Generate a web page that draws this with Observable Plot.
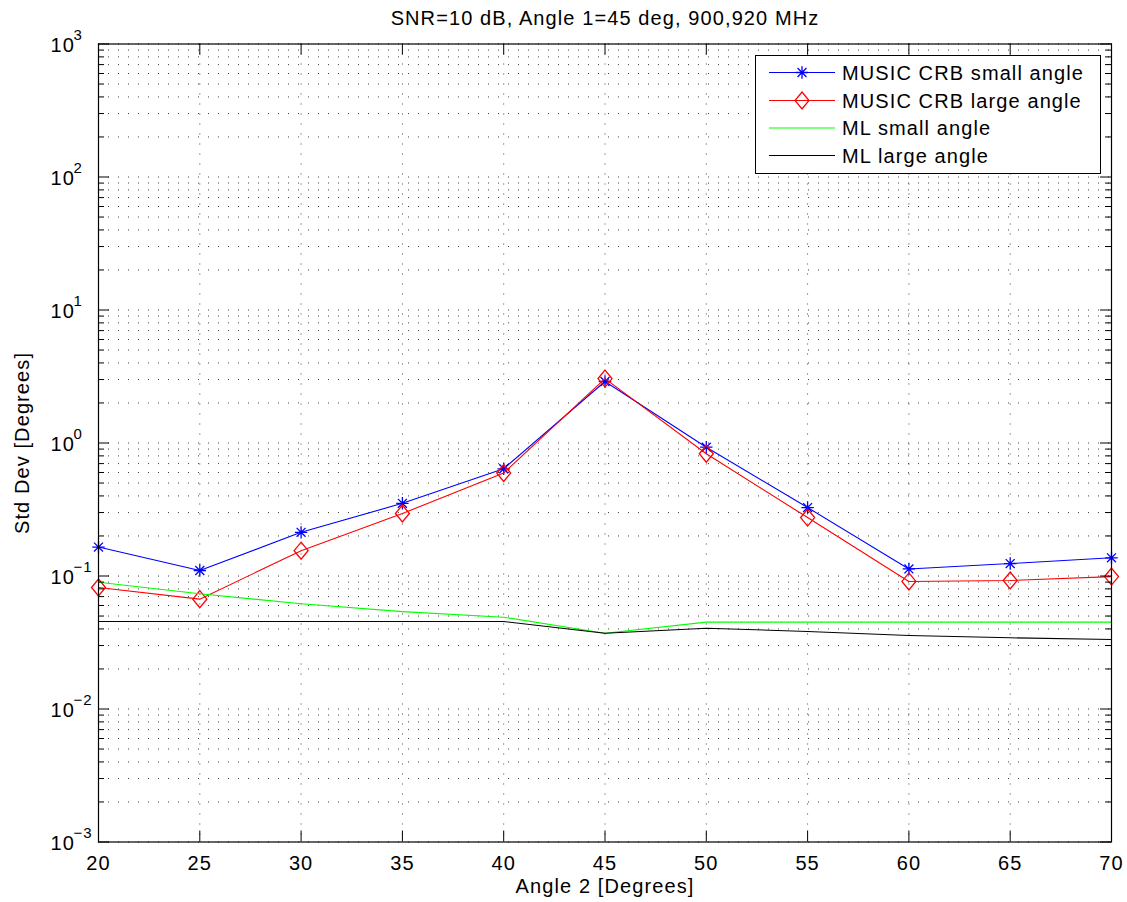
<!DOCTYPE html>
<html>
<head>
<meta charset="utf-8">
<script src="https://cdn.jsdelivr.net/npm/d3@7"></script>
<script src="https://cdn.jsdelivr.net/npm/@observablehq/plot@0.6"></script>
<style>
  html, body { margin: 0; padding: 0; background: #fff; }
  #wrap { position: relative; width: 1127px; height: 902px; }
  #wrap svg text { letter-spacing: 1.1px; }
  #legend { position: absolute; left: 755px; top: 55px; }
  #legend text { font-family: "Liberation Sans", Arial, sans-serif; font-size: 20px; letter-spacing: 1.1px; }
</style>
</head>
<body>
<div id="wrap"></div>
<script>
// ---- data ----
const angles = [20, 25, 30, 35, 40, 45, 50, 55, 60, 65, 70];
const musicSmall = [0.165, 0.110, 0.213, 0.352, 0.64, 2.9, 0.93, 0.327, 0.113, 0.124, 0.137];
const musicLarge = [0.082, 0.067, 0.155, 0.295, 0.595, 3.05, 0.83, 0.275, 0.091, 0.0925, 0.099];
const mlSmall = [0.0898, 0.0735, 0.0618, 0.054, 0.049, 0.0371, 0.045, 0.045, 0.045, 0.045, 0.045];
const mlLarge = [0.0455, 0.0455, 0.0455, 0.0455, 0.0455, 0.0371, 0.0405, 0.0383, 0.0357, 0.0343, 0.0333];

const seriesNames = ["MUSIC CRB small angle", "MUSIC CRB large angle", "ML small angle", "ML large angle"];
const seriesColors = ["#0000ff", "#ff0000", "#00ff00", "#000000"];

const xTicks = [20, 25, 30, 35, 40, 45, 50, 55, 60, 65, 70];
const yExponents = [-3, -2, -1, 0, 1, 2, 3];
const minorMultipliers = [2, 3, 4, 5, 6, 7, 8, 9];

const title = "SNR=10 dB, Angle 1=45 deg, 900,920 MHz";
const xLabel = "Angle 2 [Degrees]";
const yLabel = "Std Dev [Degrees]";

// ---- derived tables ----
const yMajor = yExponents.map(e => Math.pow(10, e));
const yMinor = yExponents.slice(0, -1).flatMap(e => minorMultipliers.map(m => m * Math.pow(10, e)));
const yGrid = yMajor.concat(yMinor);
const toRows = vals => angles.map((a, i) => ({angle: a, value: vals[i]}));
const rowsMS = toRows(musicSmall), rowsML = toRows(musicLarge), rowsLS = toRows(mlSmall), rowsLL = toRows(mlLarge);

const W = 1127, H = 902, mL = 98, mR = 16, mT = 43.5, mB = 60.5;
const innerW = W - mL - mR, innerH = H - mT - mB;
const majLen = 11, minLen = 6;

const asterisk = {
  draw(ctx) {
    const r = 6.2, d = r * 0.72;
    ctx.moveTo(-r, 0); ctx.lineTo(r, 0);
    ctx.moveTo(0, -r); ctx.lineTo(0, r);
    ctx.moveTo(-d, -d); ctx.lineTo(d, d);
    ctx.moveTo(-d, d); ctx.lineTo(d, -d);
  }
};
const diamond = {
  draw(ctx) {
    ctx.moveTo(0, -8.5); ctx.lineTo(7, 0); ctx.lineTo(0, 8.5); ctx.lineTo(-7, 0); ctx.closePath();
  }
};

const dotted = {stroke: "#000", strokeOpacity: 0.75, strokeDasharray: "1,9", strokeWidth: 1};

const chart = Plot.plot({
  width: W, height: H,
  marginLeft: mL, marginRight: mR, marginTop: mT, marginBottom: mB,
  style: {fontFamily: "'Liberation Sans', Arial, sans-serif", background: "#fff", overflow: "visible"},
  x: {domain: [20, 70], axis: null},
  y: {type: "log", domain: [1e-3, 1e3], axis: null},
  marks: [
    // grid
    Plot.ruleX(xTicks, {x: d => d, ...dotted}),
    Plot.ruleY(yGrid, {y: d => d, ...dotted}),
    // data
    Plot.line(rowsMS, {x: "angle", y: "value", stroke: seriesColors[0], strokeWidth: 1.1}),
    Plot.dot(rowsMS, {x: "angle", y: "value", stroke: seriesColors[0], symbol: asterisk, strokeWidth: 1.3}),
    Plot.line(rowsML, {x: "angle", y: "value", stroke: seriesColors[1], strokeWidth: 1.1}),
    Plot.dot(rowsML, {x: "angle", y: "value", stroke: seriesColors[1], symbol: diamond, strokeWidth: 1.3, fill: "none"}),
    Plot.line(rowsLS, {x: "angle", y: "value", stroke: seriesColors[2], strokeWidth: 1.1}),
    Plot.line(rowsLL, {x: "angle", y: "value", stroke: seriesColors[3], strokeWidth: 1.1}),
    // frame
    Plot.frame({stroke: "#000", strokeWidth: 1.2}),
    // inward ticks
    Plot.ruleX(xTicks, {x: d => d, insetTop: innerH - majLen, stroke: "#000"}),
    Plot.ruleX(xTicks, {x: d => d, insetBottom: innerH - majLen, stroke: "#000"}),
    Plot.ruleY(yMajor, {y: d => d, insetRight: innerW - majLen, stroke: "#000"}),
    Plot.ruleY(yMajor, {y: d => d, insetLeft: innerW - majLen, stroke: "#000"}),
    Plot.ruleY(yMinor, {y: d => d, insetRight: innerW - minLen, stroke: "#000"}),
    Plot.ruleY(yMinor, {y: d => d, insetLeft: innerW - minLen, stroke: "#000"}),
    // tick labels
    Plot.text(xTicks, {x: d => d, frameAnchor: "bottom", lineAnchor: "middle", dy: 21.5, text: d => String(d), fontSize: 20, fill: "#000"}),
    Plot.text(yMajor, {y: d => d, frameAnchor: "left", lineAnchor: "middle", dx: -48, dy: 1.5, textAnchor: "start", text: () => "10", fontSize: 20, fill: "#000"}),
    Plot.text(yExponents, {y: e => Math.pow(10, e), frameAnchor: "left", lineAnchor: "middle", dx: -25, dy: -8.5, textAnchor: "start",
      text: e => (e < 0 ? "\u2212" + Math.abs(e) : String(e)), fontSize: 15, fill: "#000"}),
    // titles
    Plot.text([title], {frameAnchor: "top", lineAnchor: "middle", dy: -25.5, text: d => d, fontSize: 20, fill: "#000"}),
    Plot.text([xLabel], {frameAnchor: "bottom", lineAnchor: "middle", dy: 44.5, text: d => d, fontSize: 20, fill: "#000"}),
    Plot.text([yLabel], {frameAnchor: "left", lineAnchor: "middle", textAnchor: "middle", dx: -76, rotate: -90, text: d => d, fontSize: 20, fill: "#000"})
  ]
});
document.getElementById("wrap").appendChild(chart);

// ---- legend (line + marker swatches) ----
const lg = d3.select("#wrap").append("svg").attr("id", "legend").attr("width", 346).attr("height", 119);
lg.append("rect").attr("x", 0.5).attr("y", 0.5).attr("width", 345).attr("height", 118)
  .attr("fill", "#fff").attr("stroke", "#000").attr("stroke-width", 1);
const rowY = [17.5, 45.5, 73, 100.5];
const markers = [asterisk, diamond, null, null];
seriesNames.forEach((name, i) => {
  const g = lg.append("g").attr("transform", `translate(0,${rowY[i]})`);
  g.append("line").attr("x1", 14).attr("x2", 80).attr("y1", 0).attr("y2", 0)
    .attr("stroke", seriesColors[i]).attr("stroke-width", 1.1);
  if (markers[i]) {
    const p = d3.path(); markers[i].draw(p);
    g.append("path").attr("transform", "translate(47,0)").attr("d", p.toString())
      .attr("fill", "none").attr("stroke", seriesColors[i]).attr("stroke-width", 1.3);
  }
  g.append("text").attr("x", 87).attr("y", 0).attr("dy", "0.35em").attr("fill", "#000").text(name);
});
</script>
</body>
</html>
